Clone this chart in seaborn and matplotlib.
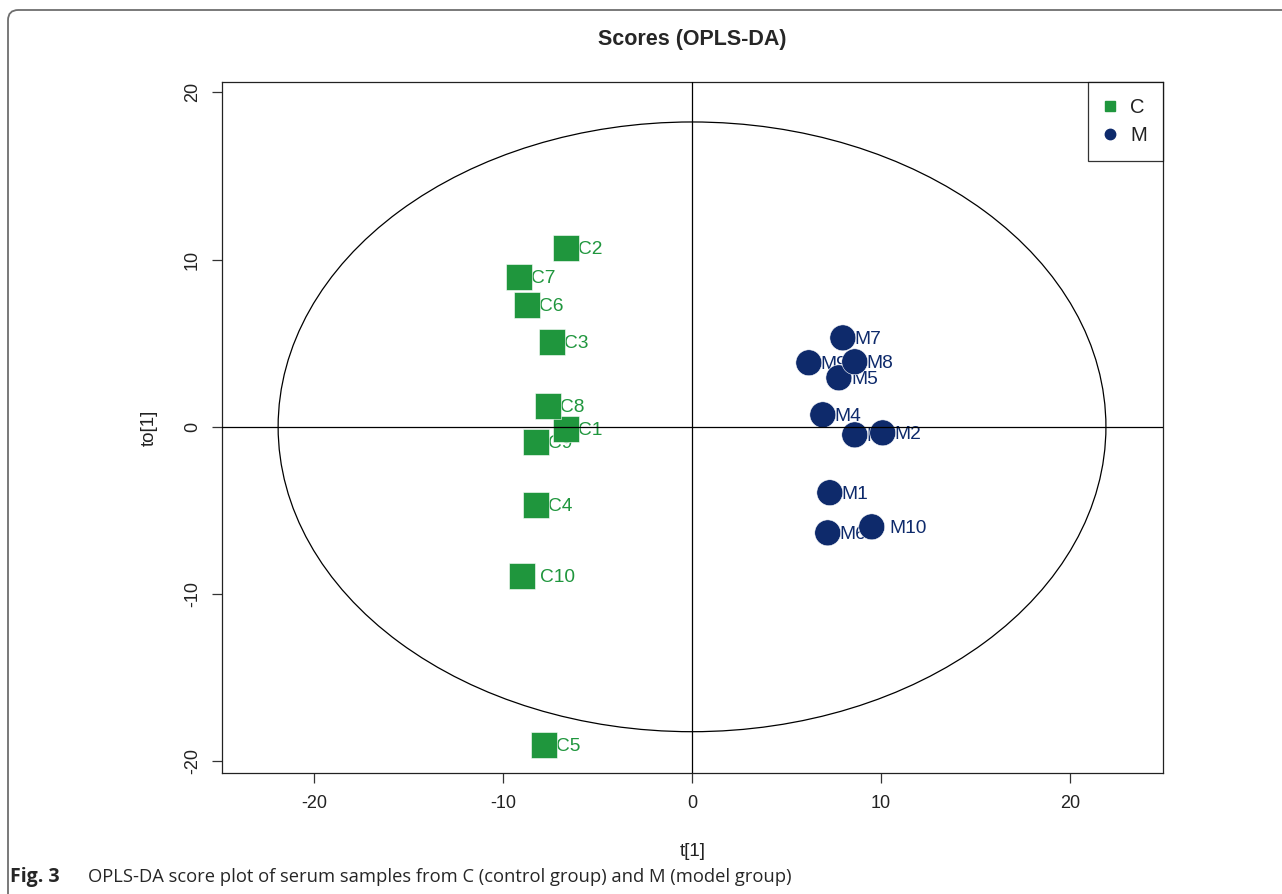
import numpy as np
import pandas as pd
import matplotlib
matplotlib.use("Agg")
import matplotlib.pyplot as plt
import seaborn as sns
from matplotlib.lines import Line2D
from matplotlib.patches import Ellipse, FancyBboxPatch

# ---- data ----
c_labels = ["C1", "C2", "C3", "C4", "C5", "C6", "C7", "C8", "C9", "C10"]
c_t1 = [-6.66, -6.66, -7.40, -8.24, -7.82, -8.72, -9.14, -7.61, -8.24, -8.98]
c_to1 = [-0.12, 10.70, 5.08, -4.66, -19.00, 7.29, 8.97, 1.25, -0.90, -8.91]

m_labels = ["M1", "M2", "M3", "M4", "M5", "M6", "M7", "M8", "M9", "M10"]
m_t1 = [7.29, 10.09, 8.61, 6.92, 7.77, 7.18, 7.98, 8.61, 6.18, 9.51]
m_to1 = [-3.94, -0.36, -0.48, 0.72, 2.93, -6.34, 5.32, 3.89, 3.83, -5.98]

ellipse_a = 21.9   # Hotelling T2 ellipse semi-axis along t[1]
ellipse_b = 18.23  # semi-axis along to[1]

x_ticks = [-20, -10, 0, 10, 20]
y_ticks = [-20, -10, 0, 10, 20]

df = pd.DataFrame({
    "t1": c_t1 + m_t1,
    "to1": c_to1 + m_to1,
    "label": c_labels + m_labels,
    "group": ["C"] * len(c_labels) + ["M"] * len(m_labels),
})

green = "#1f963d"
navy = "#0e2a6b"
palette = {"C": green, "M": navy}

sns.set_theme(style="white")
plt.rcParams["font.family"] = ["Liberation Sans", "DejaVu Sans"]

fig = plt.figure(figsize=(12.82, 8.94), dpi=100)
ax = fig.add_axes([222 / 1282, 1 - 773 / 894, (1163 - 222) / 1282, (773 - 82) / 894])

sns.scatterplot(data=df, x="t1", y="to1", hue="group", style="group",
                palette=palette, markers={"C": "s", "M": "o"},
                s=350, linewidth=0.4, edgecolor="white", legend=False,
                ax=ax, zorder=3)

for _, r in df.iterrows():
    off = 18 if len(r["label"]) > 2 else 12
    ax.annotate(r["label"], (r["t1"], r["to1"]), xytext=(off * 0.72, 0),
                textcoords="offset points", ha="left", va="center_baseline",
                fontsize=13.8, color=palette[r["group"]], zorder=2)

ax.add_patch(Ellipse((0, 0), 2 * ellipse_a, 2 * ellipse_b, fill=False,
                     edgecolor="black", linewidth=0.9, zorder=4))
ax.axhline(0, color="black", linewidth=0.9, zorder=4)
ax.axvline(0, color="black", linewidth=0.9, zorder=4)

ax.set_xlim(-24.87, 24.92)
ax.set_ylim(-20.7, 20.62)
ax.set_xticks(x_ticks)
ax.set_yticks(y_ticks)
ax.set_xticklabels([str(v) for v in x_ticks])
ax.set_yticklabels([str(v) for v in y_ticks], rotation=90, va="center")
ax.tick_params(axis="both", which="both", direction="out", length=7.2,
               width=0.9, color="#333333", labelsize=13, pad=9,
               bottom=True, left=True, labelcolor="#222222")
ax.tick_params(axis="y", pad=8)
for sp in ax.spines.values():
    sp.set_color("#222222")
    sp.set_linewidth(0.9)
ax.grid(False)

ax.set_xlabel("t[1]", fontsize=13.5, labelpad=22, color="#222222")
ax.set_ylabel("to[1]", fontsize=13.5, labelpad=19, color="#222222")
ax.set_title("Scores (OPLS-DA)", fontsize=15.5, fontweight="bold", pad=27)

handles = [
    Line2D([0], [0], marker="s", linestyle="", color=green, markersize=7.5, label="C"),
    Line2D([0], [0], marker="o", linestyle="", color=navy, markersize=7.5, label="M"),
]
leg = ax.legend(handles=handles, loc="upper right", borderaxespad=0,
                fontsize=14.5, frameon=True, fancybox=False, handlelength=0.6,
                handletextpad=0.7, borderpad=0.8, labelspacing=0.45)
leg.get_frame().set_edgecolor("black")
leg.get_frame().set_linewidth(0.9)
for t in leg.get_texts():
    t.set_color("#222222")

# figure frame (rounded top-left corner) and caption
frame = FancyBboxPatch((8 / 1282, -0.2), 1.2, 1 - 10 / 894 + 0.2,
                       boxstyle="round,pad=0,rounding_size=0.008",
                       transform=fig.transFigure, fill=False,
                       edgecolor="#6e6e6e", linewidth=1.3,
                       mutation_aspect=1282 / 894)
fig.patches.append(frame)

fig.text(10 / 1282, 1 - 877 / 894, "Fig. 3", fontsize=14, fontweight="bold",
         family=["Open Sans", "DejaVu Sans"], va="center", ha="left")
fig.text(88 / 1282, 1 - 877 / 894,
         "OPLS-DA score plot of serum samples from C (control group) and M (model group)",
         fontsize=13.2, family=["Open Sans", "DejaVu Sans"], va="center", ha="left")

fig.savefig("out.png", dpi=100)
